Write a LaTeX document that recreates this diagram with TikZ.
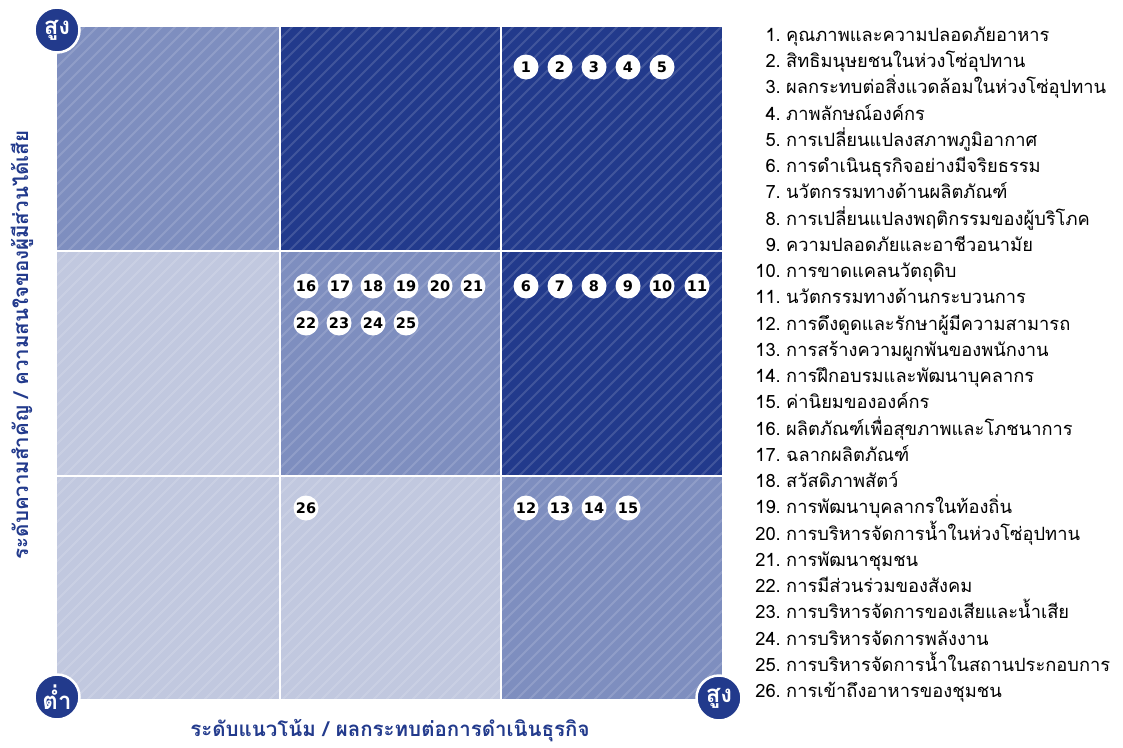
\documentclass[tikz,border=0pt]{standalone}
\usepackage{fontspec}
\newfontfamily\thai[Script=Thai]{Loma}
\newfontfamily\numf{DejaVu Sans}
\definecolor{dark}{HTML}{223A8C}
\definecolor{mid}{HTML}{7E8EBF}
\definecolor{light}{HTML}{C1C8DF}
\tikzset{
  corner/.style={circle, fill=dark, draw=white, line width=2.5pt, minimum size=45pt, inner sep=0pt, text=white, font=\thai\bfseries\fontsize{24}{24}\selectfont},
  num/.style={circle, fill=white, minimum size=25pt, inner sep=0pt, text=black, font=\numf\bfseries\fontsize{14.5}{14.5}\selectfont},
  stripe/.style={white, opacity=0.14, line width=2pt},
  sep/.style={white, line width=2pt},
  axislab/.style={text=dark, font=\thai\bfseries\fontsize{20.5}{20.5}\selectfont, inner sep=0pt},
  legnum/.style={anchor=base east, inner sep=0pt, font=\thai\fontsize{18.3}{18.3}\selectfont},
  legtxt/.style={anchor=base west, inner sep=0pt, font=\thai\fontsize{18.3}{18.3}\selectfont}
}
\begin{document}
\begin{tikzpicture}[x=1pt,y=-1pt]
\useasboundingbox (0,0) rectangle (1123,747);
% cells
\fill[mid]   (57,27) rectangle (279.5,250.5);
\fill[dark]  (279.5,27) rectangle (500.5,250.5);
\fill[dark]  (500.5,27) rectangle (722,250.5);
\fill[light] (57,250.5) rectangle (279.5,475.5);
\fill[mid]   (279.5,250.5) rectangle (500.5,475.5);
\fill[dark]  (500.5,250.5) rectangle (722,475.5);
\fill[light] (57,475.5) rectangle (279.5,699);
\fill[light] (279.5,475.5) rectangle (500.5,699);
\fill[mid]   (500.5,475.5) rectangle (722,699);
% stripes
\begin{scope}
\clip (57,27) rectangle (722,699);
\foreach \i in {-620,-607,...,730} \draw[stripe] (\i,705) -- (\i+690,15);
\end{scope}
% separators
\draw[sep] (279.5,27) -- (279.5,699);
\draw[sep] (500.5,27) -- (500.5,699);
\draw[sep] (57,250.5) -- (722,250.5);
\draw[sep] (57,475.5) -- (722,475.5);
% corner circles
\node[corner] (hiY) at (57,30) {สูง};
\node[corner] (lo) at (57,697) {ต่ำ};
\node[corner] (hiX) at (719,698) {สูง};
% numbers
\foreach \n/\x/\y in {1/526/67,2/560/67,3/594/67,4/628/67,5/662/67,
  6/526/286,7/560/286,8/594/286,9/628/286,10/662/286,11/697/286,
  16/306/286,17/340/286,18/373/286,19/406/286,20/440/286,21/473/286,
  22/306/323,23/339/323,24/373/323,25/406/323,
  26/306/508,12/526/508,13/560/508,14/594/508,15/628/508}
  \node[num] (n\n) at (\x,\y) {\n};
% axis labels
\node[axislab, rotate=90] (ylab) at (22,345) {ระดับความสำคัญ / ความสนใจของผู้มีส่วนได้เสีย};
\node[axislab] (xlab) at (390,731) {ระดับแนวโน้ม / ผลกระทบต่อการดำเนินธุรกิจ};
% legend
\foreach [count=\k] \t in {
คุณภาพและความปลอดภัยอาหาร,
สิทธิมนุษยชนในห่วงโซ่อุปทาน,
ผลกระทบต่อสิ่งแวดล้อมในห่วงโซ่อุปทาน,
ภาพลักษณ์องค์กร,
การเปลี่ยนแปลงสภาพภูมิอากาศ,
การดำเนินธุรกิจอย่างมีจริยธรรม,
นวัตกรรมทางด้านผลิตภัณฑ์,
การเปลี่ยนแปลงพฤติกรรมของผู้บริโภค,
ความปลอดภัยและอาชีวอนามัย,
การขาดแคลนวัตถุดิบ,
นวัตกรรมทางด้านกระบวนการ,
การดึงดูดและรักษาผู้มีความสามารถ,
การสร้างความผูกพันของพนักงาน,
การฝึกอบรมและพัฒนาบุคลากร,
ค่านิยมขององค์กร,
ผลิตภัณฑ์เพื่อสุขภาพและโภชนาการ,
ฉลากผลิตภัณฑ์,
สวัสดิภาพสัตว์,
การพัฒนาบุคลากรในท้องถิ่น,
การบริหารจัดการน้ำในห่วงโซ่อุปทาน,
การพัฒนาชุมชน,
การมีส่วนร่วมของสังคม,
การบริหารจัดการของเสียและน้ำเสีย,
การบริหารจัดการพลังงาน,
การบริหารจัดการน้ำในสถานประกอบการ,
การเข้าถึงอาหารของชุมชน}
{
  \pgfmathsetmacro\yy{35+(\k-1)*26.24+6.5}
  \node[legnum] (ln\k) at (781,\yy) {\k.};
  \node[legtxt] (lt\k) at (786,\yy) {\t};
}
\end{tikzpicture}
\end{document}
